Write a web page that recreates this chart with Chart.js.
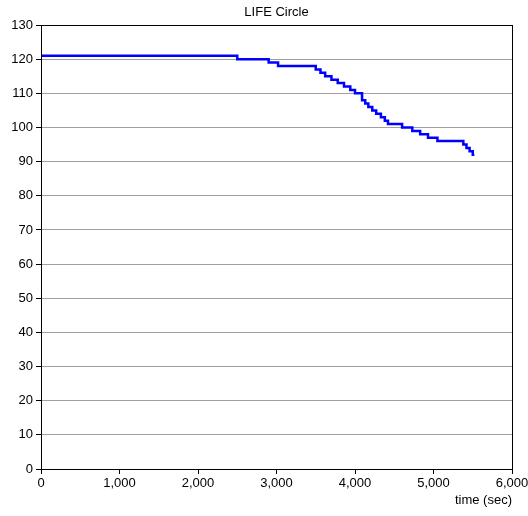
<!DOCTYPE html>
<html>
<head>
<meta charset="utf-8">
<script src="https://cdn.jsdelivr.net/npm/chart.js@4"></script>
<style>
  html, body { margin: 0; padding: 0; background: #fff; }
  #wrap { width: 528px; height: 516px; }
</style>
</head>
<body>
<div id="wrap"><canvas id="chart" width="528" height="516"></canvas></div>
<script>
// step change points: from time t the value is v
const times = [0, 2500, 2900, 3020, 3500, 3560, 3620, 3700, 3780, 3860, 3940, 4000,
  4090, 4130, 4170, 4220, 4270, 4330, 4380, 4420, 4600, 4730, 4830, 4930, 5050,
  5380, 5420, 5460, 5500, 5520];
const lifeValues = [121, 120, 119, 118, 117, 116, 115, 114, 113, 112, 111, 110,
  108, 107, 106, 105, 104, 103, 102, 101, 100, 99, 98, 97, 96,
  95, 94, 93, 92, 92];
const xTicks = [0, 1000, 2000, 3000, 4000, 5000, 6000];
const yTicks = [0, 10, 20, 30, 40, 50, 60, 70, 80, 90, 100, 110, 120, 130];

const font = { family: "'Liberation Sans', Arial, sans-serif", size: 13 };

// frame + title
const framePlugin = {
  id: "frame",
  afterDraw(chart) {
    const { ctx, chartArea: a } = chart;
    ctx.save();
    ctx.strokeStyle = "#000";
    ctx.lineWidth = 1;
    ctx.strokeRect(a.left + 0.5, a.top + 0.5, a.right - a.left, a.bottom - a.top);
    ctx.fillStyle = "#000";
    ctx.font = "13px 'Liberation Sans', Arial, sans-serif";
    ctx.textAlign = "center";
    ctx.textBaseline = "middle";
    ctx.fillText("LIFE Circle", (a.left + a.right) / 2, 12);
    ctx.restore();
  }
};

new Chart(document.getElementById("chart"), {
  type: "line",
  data: {
    datasets: [{
      data: times.map((t, i) => ({ x: t, y: lifeValues[i] })),
      borderColor: "#0000ff",
      borderWidth: 2.5,
      stepped: "before",
      pointRadius: 0,
      fill: false
    }]
  },
  options: {
    responsive: false,
    animation: false,
    layout: { padding: { top: 25, right: 16, left: 0, bottom: 0 } },
    plugins: { legend: { display: false }, tooltip: { enabled: false }, title: { display: false } },
    scales: {
      x: {
        type: "linear",
        min: 0, max: 6000,
        afterBuildTicks: s => { s.ticks = xTicks.map(v => ({ value: v })); },
        afterFit: s => { s.height = 47; s.paddingRight = 0; },
        ticks: { color: "#000", font, padding: 2, maxRotation: 0,
          callback: v => v.toLocaleString("en-US") },
        grid: { drawOnChartArea: false, tickLength: 5, tickColor: "#000" },
        border: { color: "#000" },
        title: { display: true, text: "time (sec)", align: "end", color: "#000", font,
          padding: { top: 0, bottom: 8 } }
      },
      y: {
        min: 0, max: 130,
        afterBuildTicks: s => { s.ticks = yTicks.map(v => ({ value: v })); },
        afterFit: s => { s.width = 41; },
        ticks: { color: "#000", font, padding: 3 },
        grid: { color: "#a0a0a0", tickLength: 5, tickColor: "#000" },
        border: { color: "#000" }
      }
    }
  },
  plugins: [framePlugin]
});
</script>
</body>
</html>
